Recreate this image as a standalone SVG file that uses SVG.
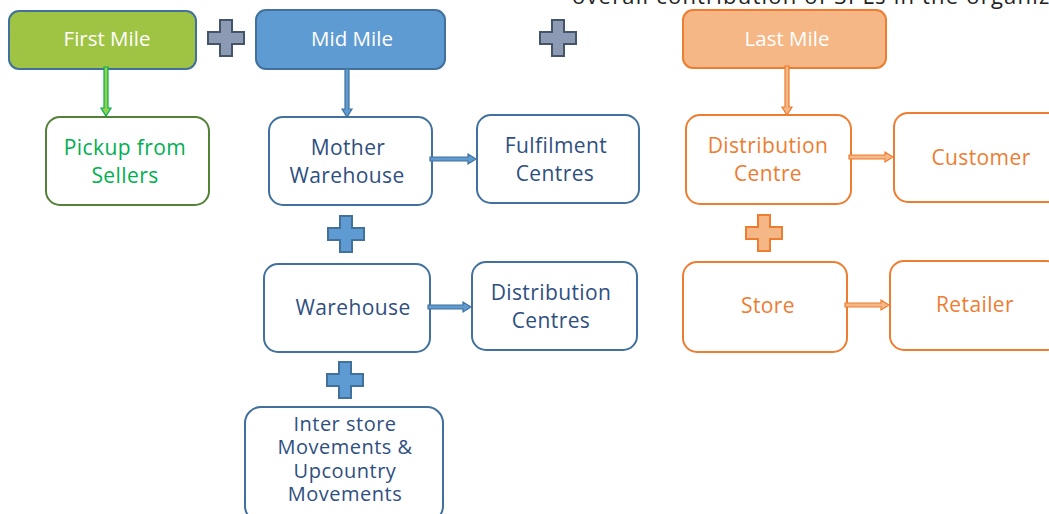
<svg xmlns="http://www.w3.org/2000/svg" width="1049" height="514" viewBox="0 0 1049 514">
<style>
.t{font-family:"Open Sans","Liberation Sans",sans-serif;font-size:21px;letter-spacing:0.4px;text-anchor:middle}
.hdr{fill:#ffffff;font-size:20.5px;letter-spacing:0}
.sm{font-size:20px;letter-spacing:0.5px}
.bx{fill:#ffffff;stroke-width:2}
.blue{stroke:#41719c}
.bt{fill:#2f4f80}
.org{stroke:#ed7d31}
.ot{fill:#ed7d31}
.grn{stroke:#538135}
.gt{fill:#00b050}
.plusg{fill:#8c9ab4;stroke:#44546a;stroke-width:2}
.plusb{fill:#5f9bd3;stroke:#41719c;stroke-width:2}
.pluso{fill:#f5b785;stroke:#ed7d31;stroke-width:2}
.ab{fill:#5f9bd3;stroke:#41719c;stroke-width:1.2}
.ao{fill:#f5b785;stroke:#ed7d31;stroke-width:1.2}
.ag{fill:#92d050;stroke:#00b050;stroke-width:1.2}
</style>
<defs>
<path id="plus" d="M-6,-18 H6 V-6 H18 V6 H6 V18 H-6 V6 H-18 V-6 H-6 Z"/>
</defs>
<text x="572" y="4" style="font-family:'Open Sans','Liberation Sans',sans-serif;font-size:22px;letter-spacing:1.2px;fill:#222">overall contribution of 3PLs in the organized</text>

<g id="first-mile"><rect x="9" y="11" width="187" height="58" rx="10" fill="#9fc444" stroke="#41719c" stroke-width="2"/><text class="t hdr" x="107" y="46">First Mile</text></g>
<g id="mid-mile"><rect x="256" y="10" width="189" height="59" rx="10" fill="#5f9bd3" stroke="#41719c" stroke-width="2"/><text class="t hdr" x="352" y="46">Mid Mile</text></g>
<g id="last-mile"><rect x="683" y="10" width="203" height="58" rx="10" fill="#f5b785" stroke="#ed7d31" stroke-width="2"/><text class="t hdr" x="787" y="46">Last Mile</text></g>

<g id="plus1"><use href="#plus" class="plusg" transform="translate(226,38)"/></g>
<g id="plus2"><use href="#plus" class="plusg" transform="translate(558,38)"/></g>
<g id="plus3"><use href="#plus" class="plusb" transform="translate(346,234)"/></g>
<g id="plus4"><use href="#plus" class="plusb" transform="translate(345,380)"/></g>
<g id="plus5"><use href="#plus" class="pluso" transform="translate(764,233)"/></g>

<g id="pickup"><rect class="bx grn" x="46" y="117" width="163" height="88" rx="14"/><text class="t gt" x="125" y="155">Pickup from</text><text class="t gt" x="125" y="183">Sellers</text></g>
<g id="mother-warehouse"><rect class="bx blue" x="269" y="117" width="163" height="88" rx="14"/><text class="t bt" x="348" y="155">Mother</text><text class="t bt" x="347" y="183">Warehouse</text></g>
<g id="fulfilment"><rect class="bx blue" x="477" y="115" width="162" height="88" rx="14"/><text class="t bt" x="556" y="153">Fulfilment</text><text class="t bt" x="555" y="181">Centres</text></g>
<g id="warehouse"><rect class="bx blue" x="264" y="264" width="166" height="88" rx="14"/><text class="t bt" x="353" y="315">Warehouse</text></g>
<g id="distribution-centres"><rect class="bx blue" x="472" y="262" width="165" height="88" rx="14"/><text class="t bt" x="551" y="300">Distribution</text><text class="t bt" x="551" y="328">Centres</text></g>
<g id="inter-store"><rect class="bx blue" x="245" y="407" width="198" height="115" rx="16"/><text class="t sm bt" x="345" y="431">Inter store</text><text class="t sm bt" x="345" y="454">Movements &amp;</text><text class="t sm bt" x="345" y="478">Upcountry</text><text class="t sm bt" x="345" y="501">Movements</text></g>
<g id="distribution-centre"><rect class="bx org" x="686" y="115" width="165" height="89" rx="14"/><text class="t ot" x="768" y="153">Distribution</text><text class="t ot" x="768" y="181">Centre</text></g>
<g id="customer"><rect class="bx org" x="894" y="113" width="170" height="89" rx="14"/><text class="t ot" x="981" y="165">Customer</text></g>
<g id="store"><rect class="bx org" x="683" y="262" width="164" height="90" rx="14"/><text class="t ot" x="768" y="313">Store</text></g>
<g id="retailer"><rect class="bx org" x="890" y="261" width="170" height="89" rx="14"/><text class="t ot" x="975" y="312">Retailer</text></g>

<g id="connectors">
<polygon class="ag" points="104,67 108,67 108,108 111,108 106,116 101,108 104,108"/>
<polygon class="ab" points="345,69 349,69 349,109 352,109 347,117 342,109 345,109"/>
<polygon class="ao" points="785,66 789,66 789,107 792,107 787,115 782,107 785,107"/>
<polygon class="ab" points="430,157 468,157 468,154 476,159 468,164 468,161 430,161"/>
<polygon class="ab" points="428,305 463,305 463,302 471,307 463,312 463,309 428,309"/>
<polygon class="ao" points="849,155 885,155 885,152 893,157 885,162 885,159 849,159"/>
<polygon class="ao" points="845,303 881,303 881,300 889,305 881,310 881,307 845,307"/>
</g>
</svg>
